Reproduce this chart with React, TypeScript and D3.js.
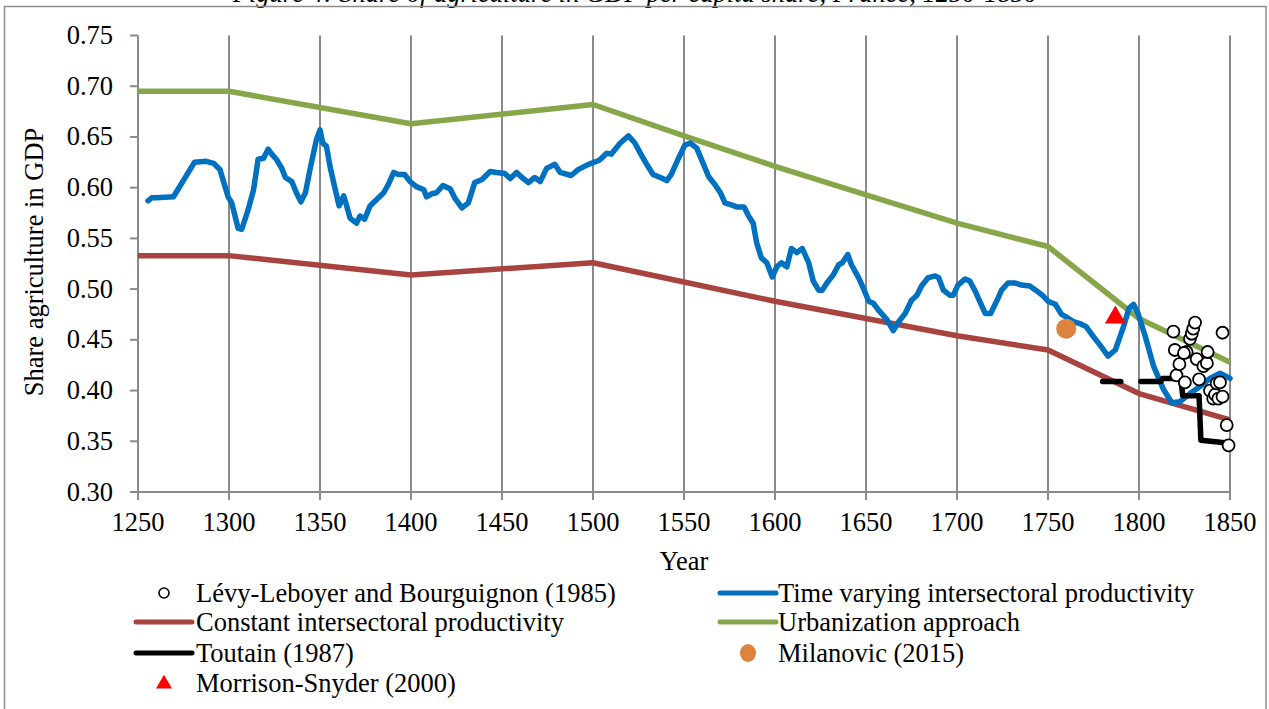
import React from 'react';
import * as d3 from 'd3';

const xTicks = [1250, 1300, 1350, 1400, 1450, 1500, 1550, 1600, 1650, 1700, 1750, 1800, 1850];
const yTicks = [0.30, 0.35, 0.40, 0.45, 0.50, 0.55, 0.60, 0.65, 0.70, 0.75];

const blueYears = [
  1255.5, 1257.5, 1260, 1269.5, 1281, 1287.5, 1291.5, 1295, 1299.5, 1301.5, 1305, 1307, 1310.5, 1313.5, 1316, 1319,
  1321.5, 1323.5, 1326, 1329, 1331, 1334.5, 1337, 1339.5, 1342, 1344.5, 1348, 1350, 1351.5, 1353.5, 1355.5, 1358,
  1360.5, 1363, 1364.5, 1366.5, 1370, 1372, 1374.5, 1377.5, 1381, 1385, 1387.5, 1390.5, 1393, 1396.5, 1399.5, 1403,
  1407, 1408.5, 1411.5, 1414, 1417.5, 1421.5, 1424, 1428, 1431.5, 1435, 1439, 1443.5, 1447, 1451.5, 1454.5, 1458,
  1461, 1464.5, 1468, 1471, 1474.5, 1479, 1482, 1488, 1492, 1497.5, 1503.5, 1507.5, 1510, 1515, 1519.5, 1523,
  1526, 1529.5, 1533, 1537, 1540.5, 1543, 1547, 1550.5, 1553.5, 1557, 1560.5, 1563.5, 1567, 1570, 1572.5, 1576,
  1579, 1583, 1585.5, 1588, 1590, 1592.5, 1595.5, 1598.5, 1601, 1603.5, 1606.5, 1609, 1612, 1615, 1618.5, 1621,
  1624, 1626, 1628.5, 1632, 1635, 1637, 1640, 1642, 1646, 1648.5, 1651.5, 1654, 1657.5, 1661.5, 1665, 1668,
  1671.5, 1675, 1678, 1680.5, 1684, 1688, 1690, 1692.5, 1696, 1698, 1700.5, 1704.5, 1707, 1710, 1712.5, 1715.5,
  1718.5, 1722, 1724.5, 1728, 1732, 1735.5, 1740, 1744, 1747.5, 1750, 1754, 1757.5, 1760.5, 1764, 1767.5, 1771,
  1775, 1778.5, 1783, 1787, 1791.5, 1794.5, 1797, 1799.5, 1803.5, 1808, 1813.5, 1818, 1822.5, 1828, 1833.5, 1839,
  1844.5, 1849, 1850,
];
const blueValues = [
  0.587, 0.590, 0.590, 0.591, 0.625, 0.626, 0.624, 0.618, 0.591, 0.585, 0.560, 0.559, 0.578, 0.598, 0.628, 0.629,
  0.638, 0.633, 0.628, 0.619, 0.610, 0.606, 0.595, 0.586, 0.595, 0.618, 0.647, 0.657, 0.644, 0.641, 0.621, 0.601,
  0.582, 0.592, 0.583, 0.570, 0.565, 0.572, 0.569, 0.582, 0.588, 0.595, 0.603, 0.615, 0.613, 0.613, 0.606, 0.601,
  0.598, 0.591, 0.594, 0.595, 0.602, 0.599, 0.590, 0.580, 0.585, 0.605, 0.608, 0.616, 0.615, 0.614, 0.609, 0.615,
  0.610, 0.605, 0.610, 0.606, 0.619, 0.623, 0.615, 0.612, 0.618, 0.623, 0.627, 0.634, 0.633, 0.644, 0.651, 0.644,
  0.634, 0.623, 0.613, 0.610, 0.607, 0.613, 0.629, 0.642, 0.644, 0.639, 0.624, 0.611, 0.603, 0.595, 0.585, 0.583,
  0.581, 0.581, 0.572, 0.565, 0.545, 0.531, 0.526, 0.512, 0.522, 0.526, 0.522, 0.540, 0.536, 0.540, 0.526, 0.508,
  0.499, 0.499, 0.506, 0.514, 0.524, 0.526, 0.534, 0.524, 0.511, 0.501, 0.488, 0.486, 0.478, 0.470, 0.459, 0.468,
  0.476, 0.489, 0.494, 0.503, 0.511, 0.513, 0.511, 0.499, 0.494, 0.494, 0.504, 0.510, 0.508, 0.498, 0.488, 0.476,
  0.476, 0.489, 0.499, 0.506, 0.506, 0.504, 0.503, 0.498, 0.493, 0.488, 0.485, 0.475, 0.472, 0.468, 0.466, 0.463,
  0.453, 0.445, 0.434, 0.440, 0.463, 0.481, 0.485, 0.476, 0.453, 0.424, 0.401, 0.388, 0.389, 0.397, 0.404, 0.412,
  0.417, 0.413, 0.412,
];

const urbYears = [1250, 1300, 1400, 1500, 1550, 1600, 1650, 1700, 1750, 1800, 1850];
const urbValues = [0.695, 0.695, 0.663, 0.682, 0.651, 0.621, 0.593, 0.565, 0.542, 0.471, 0.428];

const constYears = [1250, 1300, 1400, 1500, 1550, 1600, 1650, 1700, 1750, 1800, 1850];
const constValues = [0.533, 0.533, 0.514, 0.526, 0.507, 0.488, 0.471, 0.454, 0.440, 0.397, 0.371];

const toutainYears = [1780, 1790, 1791, 1801, 1812, 1813, 1823, 1824, 1833, 1834, 1850];
const toutainValues = [0.409, 0.409, null, 0.409, 0.409, 0.412, 0.412, 0.395, 0.395, 0.351, 0.348];

const levyYears = [
  1818.9, 1819.7, 1820.6, 1822.2, 1825.2, 1826.2, 1824.7, 1828, 1829, 1829.8, 1830.8, 1831.7, 1833,
  1835.4, 1837.3, 1837.7, 1839, 1840.8, 1841.8, 1843.6, 1842.7, 1844.5, 1845.9, 1845.9, 1848.2, 1849.2,
];
const levyValues = [
  0.458, 0.440, 0.415, 0.426, 0.408, 0.438, 0.437, 0.451, 0.456, 0.461, 0.467, 0.431, 0.411,
  0.424, 0.427, 0.438, 0.400, 0.392, 0.396, 0.392, 0.407, 0.408, 0.394, 0.457, 0.366, 0.346,
];

const milanovicYear = 1760;
const milanovicValue = 0.461;
const morrisonYear = 1787;
const morrisonValue = 0.472;

const titleText = 'Figure 4: Share of agriculture in GDP per capita share, France, 1250-1850';

const legendLeft = [
  { label: 'Lévy-Leboyer and Bourguignon (1985)', kind: 'circle', color: '#000' },
  { label: 'Constant intersectoral productivity', kind: 'line', color: '#A9433F' },
  { label: 'Toutain (1987)', kind: 'line', color: '#000' },
  { label: 'Morrison-Snyder (2000)', kind: 'triangle', color: '#FF0000' },
];
const legendRight = [
  { label: 'Time varying intersectoral productivity', kind: 'line', color: '#0070C0' },
  { label: 'Urbanization approach', kind: 'line', color: '#87A64A' },
  { label: 'Milanovic (2015)', kind: 'dot', color: '#DC843E' },
];

const FONT = '"Liberation Serif", "Times New Roman", serif';
const FS = 26.5;

export default function App() {
  const W = 1269;
  const H = 709;
  const x = d3.scaleLinear().domain([1250, 1850]).range([138, 1230]);
  const y = d3.scaleLinear().domain([0.30, 0.75]).range([492, 35.5]);

  const line = d3
    .line<[number, number | null]>()
    .defined((d) => d[1] !== null)
    .x((d) => x(d[0]))
    .y((d) => y(d[1] as number));

  const zip = (a: number[], b: (number | null)[]) => a.map((v, i) => [v, b[i]] as [number, number | null]);

  const tri = d3.symbol().type(d3.symbolTriangle);

  const legendRowsY = [593, 622, 653, 683];

  const renderLegendItem = (item: any, i: number, lx: number, tx: number) => {
    const cy = legendRowsY[i];
    let marker = null;
    if (item.kind === 'line') {
      marker = <line x1={lx} x2={lx + 56} y1={cy} y2={cy} stroke={item.color} strokeWidth={5} strokeLinecap="round" />;
    } else if (item.kind === 'circle') {
      marker = <circle cx={lx + 28} cy={cy} r={5} fill="#fff" stroke="#000" strokeWidth={1.6} />;
    } else if (item.kind === 'triangle') {
      marker = <path d={tri.size(110)() as string} transform={`translate(${lx + 28},${cy + 1})`} fill={item.color} />;
    } else if (item.kind === 'dot') {
      marker = <ellipse cx={lx + 28} cy={cy} rx={8} ry={9} fill={item.color} />;
    }
    return (
      <g key={item.label}>
        {marker}
        <text x={tx} y={cy + 8.5} fontSize={FS} fontFamily={FONT} fill="#000">
          {item.label}
        </text>
      </g>
    );
  };

  return (
    <svg
      width={W}
      height={H}
      style={{ position: 'absolute', left: 0, top: 0, display: 'block', background: '#fff' }}
    >
      <rect x={0} y={0} width={W} height={H} fill="#fff" />
      <text x={635} y={2} textAnchor="middle" fontSize={FS} fontStyle="italic" fontFamily={FONT} fill="#000">
        {titleText}
      </text>
      <rect x={4.5} y={6.5} width={1261.5} height={720} fill="none" stroke="#8c8c8c" strokeWidth={1.5} />

      {/* vertical gridlines */}
      {xTicks.slice(1).map((t) => (
        <line key={'g' + t} x1={x(t)} x2={x(t)} y1={y(0.75)} y2={y(0.30)} stroke="#8a8a8a" strokeWidth={2} />
      ))}
      {/* y axis */}
      <line x1={x(1250)} x2={x(1250)} y1={y(0.75)} y2={y(0.30)} stroke="#8a8a8a" strokeWidth={2} />
      {yTicks.map((t) => (
        <g key={'yt' + t}>
          <line x1={x(1250) - 8} x2={x(1250)} y1={y(t)} y2={y(t)} stroke="#8a8a8a" strokeWidth={2} />
          <text x={113} y={y(t) + 8.5} textAnchor="end" fontSize={FS} fontFamily={FONT} fill="#000">
            {t.toFixed(2)}
          </text>
        </g>
      ))}
      {/* x axis */}
      <line x1={x(1250) - 8} x2={x(1850)} y1={y(0.30)} y2={y(0.30)} stroke="#8a8a8a" strokeWidth={2} />
      {xTicks.map((t) => (
        <g key={'xt' + t}>
          <line x1={x(t)} x2={x(t)} y1={y(0.30)} y2={y(0.30) + 8} stroke="#8a8a8a" strokeWidth={2} />
          <text x={x(t)} y={531} textAnchor="middle" fontSize={FS} fontFamily={FONT} fill="#000">
            {t}
          </text>
        </g>
      ))}
      <text x={684} y={570} textAnchor="middle" fontSize={FS} fontFamily={FONT} fill="#000">
        Year
      </text>
      <text
        transform={`translate(43,262) rotate(-90)`}
        textAnchor="middle"
        fontSize={FS}
        fontFamily={FONT}
        fill="#000"
      >
        Share agriculture in GDP
      </text>

      {/* series */}
      <path d={line(zip(urbYears, urbValues)) as string} fill="none" stroke="#87A64A" strokeWidth={5.5} strokeLinejoin="round" />
      <path d={line(zip(constYears, constValues)) as string} fill="none" stroke="#A9433F" strokeWidth={5.5} strokeLinejoin="round" />
      <path
        d={line(zip(blueYears, blueValues)) as string}
        fill="none"
        stroke="#0070C0"
        strokeWidth={5.5}
        strokeLinejoin="round"
        strokeLinecap="round"
      />
      <path
        d={line(zip(toutainYears, toutainValues)) as string}
        fill="none"
        stroke="#000"
        strokeWidth={5.5}
        strokeLinejoin="round"
        strokeLinecap="round"
      />
      {levyYears.map((yr, i) => (
        <circle key={'l' + i} cx={x(yr)} cy={y(levyValues[i])} r={6} fill="#fff" stroke="#000" strokeWidth={1.8} />
      ))}
      <circle cx={x(milanovicYear)} cy={y(milanovicValue)} r={10} fill="#DC843E" />
      <path
        d={tri.size(190)() as string}
        transform={`translate(${x(morrisonYear)},${y(morrisonValue)})`}
        fill="#FF0000"
      />

      {/* legend */}
      {legendLeft.map((it, i) => renderLegendItem(it, i, 136, 196))}
      {legendRight.map((it, i) => renderLegendItem(it, i, 720, 778))}
    </svg>
  );
}
